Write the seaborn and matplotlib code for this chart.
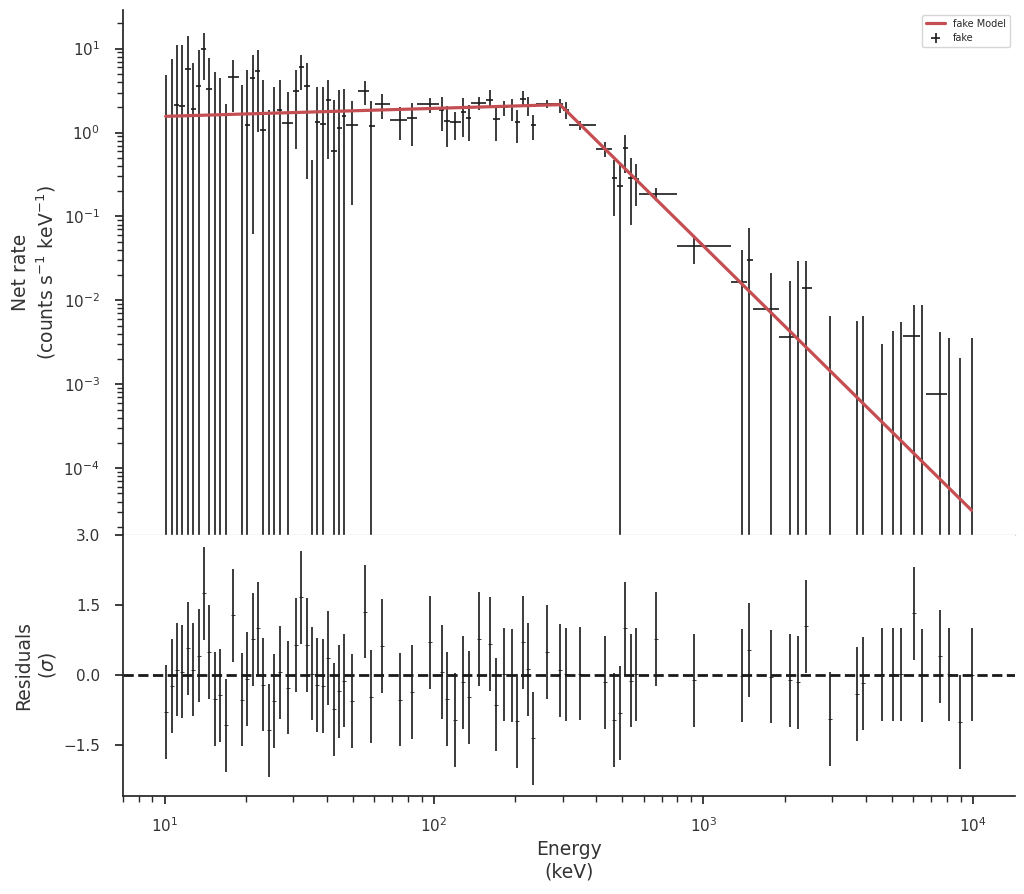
import numpy as np
import matplotlib
matplotlib.use("Agg")
import matplotlib.pyplot as plt
import seaborn as sns

# ----------------------------------------------------------
# data
# ----------------------------------------------------------
nan = np.nan

energy = [10.09, 10.62, 11.11, 11.59, 12.20, 12.78, 13.41, 13.99, 14.60, 15.43,
          16.10, 16.95, 17.99, 19.43, 20.21, 21.27, 22.20, 23.17, 24.39, 25.46,
          26.80, 28.70, 30.73, 32.18, 33.76, 35.24, 36.90, 38.71, 40.54, 42.53,
          44.39, 46.33, 49.61, 55.29, 58.54, 64.12, 74.59, 82.85, 96.65, 107.1,
          111.8, 119.9, 128.2, 134.8, 146.9, 161.3, 169.8, 181.9, 194.8, 203.2,
          214.1, 223.4, 233.2, 263.3, 293.5, 309.7, 349.2, 431.1, 466.0, 490.6,
          512.1, 538.6, 562.1, 664.5, 923.8, 1392, 1480, 1782, 2097, 2247,
          2394, 2960, 3722, 3917, 4609, 5058, 5422, 6061, 6489, 7560,
          8174, 8979, 9881]

bin_edges = [9.87, 10.35, 10.86, 11.35, 11.90, 12.49, 13.09, 13.70, 14.30, 15.01,
             15.76, 16.52, 17.18, 18.83, 19.82, 20.74, 21.74, 22.69, 23.78, 24.93,
             26.12, 27.36, 29.96, 31.45, 32.96, 34.50, 36.06, 37.80, 39.62, 41.52,
             43.45, 45.35, 47.29, 52.22, 57.21, 60.22, 68.89, 79.53, 86.63, 104.5,
             109.1, 114.7, 125.7, 131.2, 137.5, 156.5, 165.2, 175.4, 187.8, 199.4,
             208.1, 219.0, 228.6, 240.0, 288.7, 301.3, 317.2, 399.6, 458.1, 478.1,
             501.1, 525.3, 550.1, 577.1, 798.6, 1267, 1445, 1522, 1909, 2172,
             2314, 2533, 3321, 3819, 4250, 4831, 5241, 5515, 6363, 6677,
             7991, 8567, 9428, 10360]

rate = [-1.2, -1.8, 2.15, 2.09, 5.77, 1.91, 3.62, 9.92, 3.30, -1.0,
        -0.8, -0.6, 4.55, -0.9, 1.24, 4.43, 5.36, 1.08, -0.5, -0.7,
        1.84, 1.30, 3.15, 5.98, 3.62, -0.2, 1.35, 1.27, 2.42, 0.607,
        1.13, 1.58, 1.24, 3.15, 1.20, 2.21, 1.42, 1.50, 2.19, 1.87,
        1.38, 1.32, 1.74, 1.51, 2.25, 2.46, 1.45, 2.03, 2.05, 1.32,
        2.53, 2.05, 1.24, 2.21, 2.19, 1.84, 1.24, 0.636, 0.286, 0.228,
        0.653, 0.286, 0.279, 0.186, 0.0446, 0.0164, 0.0303, 0.00783, 0.00369, -0.005,
        0.0139, -0.004, -0.002, -0.001, 0.0, 0.0, 0.0, 0.00376, 0.0, 0.00076,
        0.0, -0.002, 0.0]

rate_hi = [4.85, 7.54, 11.2, 10.9, 14.3, 6.75, 9.73, 15.4, 7.74, 5.32,
           4.43, 2.21, 7.25, 3.65, 5.61, 8.47, 9.55, 4.27, 1.84, 3.49,
           4.27, 3.01, 5.61, 8.47, 6.75, 0.473, 3.49, 3.49, 4.19, 2.42,
           3.24, 3.30, 2.35, 4.12, 2.39, 2.88, 2.00, 2.25, 2.58, 2.66,
           2.10, 1.74, 2.58, 2.15, 2.63, 3.18, 2.05, 2.35, 2.51, 1.87,
           3.09, 2.63, 1.63, 2.42, 2.51, 2.29, 1.36, 0.762, 0.470, 0.413,
           0.942, 0.497, 0.421, 0.218, 0.0551, 0.0399, 0.0724, 0.0210, 0.0172, 0.0298,
           0.0298, 0.00656, 0.00573, 0.00656, 0.00299, 0.00435, 0.00548, 0.00881, 0.00881, 0.00416,
           0.00359, 0.00204, 0.00359]

# nan -> lower end runs off the bottom of the plot (below zero)
rate_lo = [nan, nan, nan, nan, nan, nan, nan, 4.19, nan, nan,
           nan, nan, 1.74, nan, nan, 0.0615, 1.02, nan, nan, nan,
           nan, nan, 0.641, 3.18, 0.281, nan, nan, nan, 0.486, nan,
           nan, nan, 0.137, 2.15, nan, 1.45, 0.820, 0.695, 1.71, 1.05,
           0.664, 0.820, 0.897, 0.798, 1.87, 1.96, 0.798, 1.56, 1.38, 0.749,
           2.15, 1.56, 0.820, 1.96, 1.71, 1.45, 1.06, 0.511, 0.1017, nan,
           0.329, 0.0794, 0.134, 0.151, 0.0272, nan, nan, nan, nan, nan,
           nan, nan, nan, nan, nan, nan, nan, nan, nan, nan,
           nan, nan, nan]

resid = [-0.80, -0.24, 0.11, 0.07, 0.57, 0.11, 0.41, 1.75, 0.49, -0.52,
         -0.44, -1.08, 1.28, -0.53, -0.09, 0.76, 1.00, -0.21, -1.19, -0.56,
         0.05, -0.28, 0.64, 1.66, 0.64, 0.02, -0.22, -0.24, 0.36, -0.74,
         -0.35, -0.13, -0.56, 1.35, -0.47, 0.62, -0.53, -0.37, 0.70, 0.06,
         -0.52, -0.97, -0.16, -0.48, 0.77, 0.66, -0.64, 0.01, -0.01, -0.99,
         0.70, 0.12, -1.36, 0.49, 0.10, 0.01, 0.02, -0.16, -0.97, -0.82,
         1.00, -0.13, 0.01, 0.77, -0.12, -0.02, 0.53, -0.04, -0.12, -0.16,
         1.04, -0.95, -0.41, -0.18, 0.01, 0.01, 0.01, 1.32, -0.01, 0.40,
         0.01, -1.01, 0.00]

# broken power law model (fake Model)
model_energy = [10.09, 293.5, 9881]
model_rate = [1.56, 2.15, 3.15e-5]

# ----------------------------------------------------------
sns.set_theme(style="ticks")
plt.rcParams["font.family"] = ["DejaVu Sans"]

RED = "#C44E52"
DATA = "#1a1a1a"
TXT = "#333333"

e = np.array(energy)
edges = np.array(bin_edges)
r = np.array(rate)
r_hi = np.array(rate_hi)
r_lo = np.where(np.isnan(np.array(rate_lo)), -10.0, np.array(rate_lo))
err_hi = r_hi - r
err_lo = r - r_lo
xerr = [e - edges[:-1], edges[1:] - e]

fig, (ax, ax_res) = plt.subplots(
    2, 1, figsize=(10.24, 8.94), dpi=100, sharex=True,
    gridspec_kw={"height_ratios": [525, 261], "hspace": 0})
fig.subplots_adjust(left=0.120, right=0.991, top=0.989, bottom=0.1096)

ax.set_xscale("log")
ax.set_yscale("log")

sns.lineplot(x=model_energy, y=model_rate, ax=ax, color=RED, lw=2.3,
             label="fake Model", zorder=3)
ax.errorbar(e, r, xerr=xerr, yerr=[err_lo, err_hi], fmt="none",
            ecolor=DATA, elinewidth=1.2, label="fake", zorder=2)

ax.set_xlim(7.0, 14300)
ax.set_ylim(1.6e-5, 29)
ax.set_ylabel("Net rate\n(counts s$^{-1}$ keV$^{-1}$)", fontsize=13.5, color=TXT)
ax.tick_params(axis="x", which="both", bottom=False, labelbottom=False)
ax.tick_params(axis="y", labelsize=11, pad=10.5, labelcolor=TXT)
ax.legend(loc="upper right", fontsize=7, frameon=True)
sns.despine(ax=ax)
ax.spines["bottom"].set_visible(True)
ax.spines["bottom"].set_color("#d0d0d0")
ax.spines["bottom"].set_linewidth(1.0)

# residuals
ax_res.errorbar(e, resid, yerr=np.ones(len(resid)), fmt="_", ms=3,
                color=DATA, ecolor=DATA, elinewidth=1.2, mew=0.6)
ax_res.axhline(0, color=DATA, ls="--", lw=2)
ax_res.set_ylim(-2.6, 3.0)
ax_res.set_yticks([-1.5, 0.0, 1.5, 3.0])
ax_res.set_ylabel("Residuals\n($\\sigma$)", fontsize=13.5, color=TXT)
ax_res.set_xlabel("Energy\n(keV)", fontsize=13.5, color=TXT)
ax_res.tick_params(axis="y", labelsize=11, pad=10.5, labelcolor=TXT)
ax_res.tick_params(axis="x", labelsize=11, pad=8.5, labelcolor=TXT)
sns.despine(ax=ax_res)

fig.align_ylabels([ax, ax_res])
fig.savefig("out.png", dpi=100)
